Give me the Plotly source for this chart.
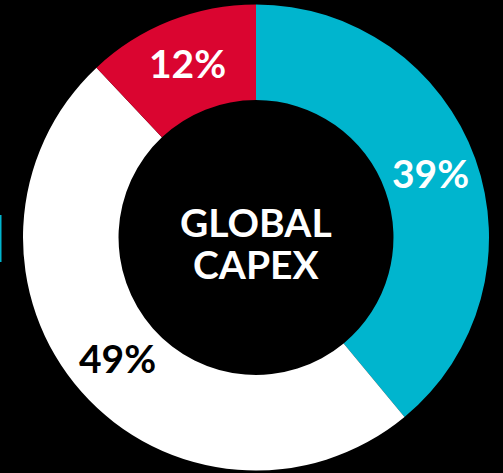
import math
import plotly.graph_objects as go

# Share of global capex by segment
segments = ["Segment A", "Segment B", "Segment C"]
shares = [39, 49, 12]
colors = ["#00B5CE", "#FFFFFF", "#DA0530"]
label_colors = ["#FFFFFF", "#000000", "#FFFFFF"]
center_lines = ["GLOBAL", "CAPEX"]

W, H = 503, 473
cx, cy = 256, 235.5          # donut centre in pixels (y measured from bottom)
r_out = 233
hole = 0.59

fig = go.Figure(
    go.Pie(
        labels=segments,
        values=shares,
        marker=dict(colors=colors, line=dict(width=0)),
        hole=hole,
        sort=False,
        direction="clockwise",
        rotation=0,
        textinfo="none",
        hoverinfo="label+percent",
        showlegend=False,
        domain=dict(
            x=[(cx - r_out) / W, (cx + r_out) / W],
            y=[(cy - r_out) / H, (cy + r_out) / H],
        ),
    )
)

# Percentage labels placed at the middle of each ring segment
total = sum(shares)
r_mid = r_out * (1 + hole) / 2
start = 0.0
for val, col in zip(shares, label_colors):
    mid = start + val / total * 360 / 2
    start += val / total * 360
    a = math.radians(mid)
    px = cx + r_mid * math.sin(a)
    py = cy + r_mid * math.cos(a) + 2
    fig.add_annotation(
        x=px / W, y=py / H, xref="paper", yref="paper",
        text=f"{val}%", showarrow=False,
        xanchor="center", yanchor="middle",
        font=dict(family="Lato", size=39, color=col, weight="bold"),
    )

# Centre title
for i, line in enumerate(center_lines):
    fig.add_annotation(
        x=cx / W, y=(cy - 5 + (0.5 - i) * 42) / H, xref="paper", yref="paper",
        text=line, showarrow=False,
        xanchor="center", yanchor="middle",
        font=dict(family="Lato", size=39, color="#FFFFFF", weight="bold"),
    )

# Edge of a neighbouring ring peeking in at the left border
fig.add_shape(
    type="rect", xref="paper", yref="paper",
    x0=0, x1=1.5 / W, y0=(H - 262) / H, y1=(H - 215) / H,
    fillcolor="#00B5CE", line=dict(width=0), layer="above",
)

fig.update_layout(
    width=W, height=H,
    margin=dict(l=0, r=0, t=0, b=0),
    paper_bgcolor="#000000",
    plot_bgcolor="#000000",
)

fig.write_html("out.html")
